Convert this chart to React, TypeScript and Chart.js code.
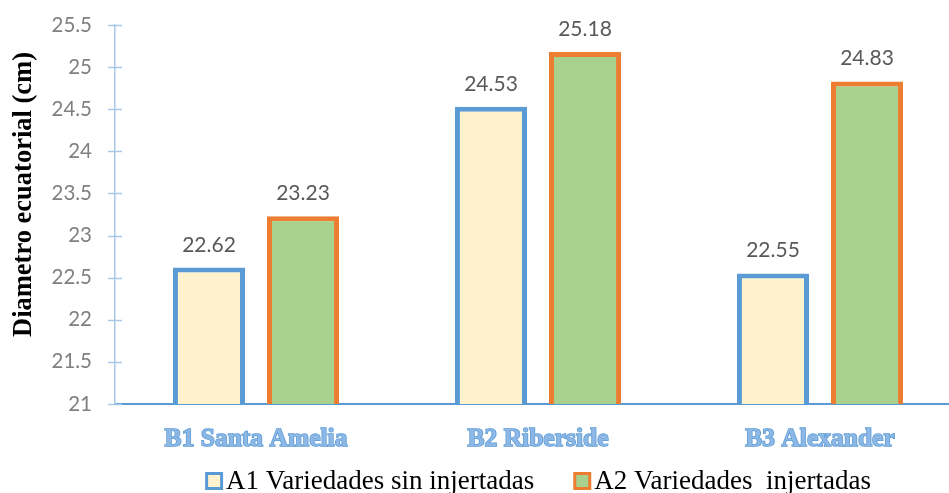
import React, { useEffect, useRef } from "react";
import { Chart, registerables } from "chart.js";

Chart.register(...registerables);

const categories = ["B1 Santa Amelia", "B2 Riberside", "B3 Alexander"];
const seriesA1 = [22.62, 24.53, 22.55];
const seriesA2 = [23.23, 25.18, 24.83];
const seriesNames = ["A1 Variedades sin injertadas", "A2 Variedades  injertadas"];
const yTickLabels = ["21", "21.5", "22", "22.5", "23", "23.5", "24", "24.5", "25", "25.5"];
const yTitle = "Diametro ecuatorial (cm)";

const crossTicks = {
  id: "crossTicks",
  afterDraw(chart: any) {
    const y = chart.scales.y;
    const ctx = chart.ctx;
    ctx.save();
    ctx.strokeStyle = "#a9c8e8";
    ctx.lineWidth = 1.5;
    y.ticks.forEach((t: any) => {
      const py = Math.round(y.getPixelForValue(t.value)) + 0.5;
      ctx.beginPath();
      ctx.moveTo(y.right - 7, py);
      ctx.lineTo(y.right + 7, py);
      ctx.stroke();
    });
    ctx.restore();
  },
};

const yAxisTitle = {
  id: "yAxisTitle",
  afterDraw(chart: any) {
    const ctx = chart.ctx;
    const area = chart.chartArea;
    ctx.save();
    ctx.translate(24, (area.top + area.bottom) / 2 - 20);
    ctx.rotate(-Math.PI / 2);
    ctx.font = "bold 26.5px 'Liberation Serif'";
    ctx.fillStyle = "#000000";
    ctx.textAlign = "center";
    ctx.textBaseline = "middle";
    ctx.fillText(yTitle, 0, 0);
    ctx.restore();
  },
};

const dataLabels = {
  id: "dataLabels",
  afterDatasetsDraw(chart: any) {
    const ctx = chart.ctx;
    ctx.save();
    ctx.fillStyle = "#595959";
    ctx.font = "21px Lato";
    ctx.textAlign = "center";
    ctx.textBaseline = "alphabetic";
    chart.data.datasets.forEach((ds: any, i: number) => {
      const meta = chart.getDatasetMeta(i);
      meta.data.forEach((bar: any, j: number) => {
        ctx.fillText(ds.data[j].toFixed(2), bar.x, bar.y - 16);
      });
    });
    ctx.restore();
  },
};

const customLegend = {
  id: "customLegend",
  afterDraw(chart: any) {
    const ctx = chart.ctx;
    const area = chart.chartArea;
    ctx.save();
    ctx.font = "27px 'Liberation Serif'";
    ctx.textBaseline = "alphabetic";
    ctx.textAlign = "left";
    const box = 18;
    const gapText = 3;
    const gapItems = 39;
    const ds = chart.data.datasets;
    const widths = ds.map((d: any) => ctx.measureText(d.label).width);
    const total = widths.reduce((a: number, w: number) => a + box + gapText + w, 0) + gapItems * (ds.length - 1);
    let x = (area.left + area.right) / 2 - total / 2;
    const baseline = 489;
    ds.forEach((d: any, i: number) => {
      ctx.fillStyle = d.borderColor;
      ctx.fillRect(x, baseline - 17, box, box);
      ctx.fillStyle = d.backgroundColor;
      ctx.fillRect(x + 3, baseline - 14, box - 6, box - 6);
      ctx.fillStyle = "#000000";
      ctx.fillText(d.label, x + box + gapText, baseline);
      x += box + gapText + widths[i] + gapItems;
    });
    ctx.restore();
  },
};

export default function App() {
  const ref = useRef<HTMLCanvasElement>(null);
  useEffect(() => {
    if (!ref.current) return;
    const chart = new Chart(ref.current, {
      type: "bar",
      data: {
        labels: categories,
        datasets: [
          {
            label: seriesNames[0],
            data: seriesA1,
            backgroundColor: "#fff2cc",
            borderColor: "#5b9bd5",
            borderWidth: 5,
            borderSkipped: false,
          },
          {
            label: seriesNames[1],
            data: seriesA2,
            backgroundColor: "#a9d18e",
            borderColor: "#ed7d31",
            borderWidth: 5,
            borderSkipped: false,
          },
        ],
      },
      options: {
        animation: false,
        responsive: true,
        maintainAspectRatio: false,
        layout: { padding: { top: 25, left: 0, right: 0, bottom: 39 } },
        datasets: { bar: { categoryPercentage: 0.667, barPercentage: 0.766 } },
        plugins: {
          tooltip: { enabled: false },
          legend: { display: false },
        },
        scales: {
          x: {
            grid: { display: false, drawTicks: false },
            border: { display: true, color: "#5b9bd5", width: 2 },
            ticks: {
              color: "#8db8e6",
              textStrokeColor: "#5b9bd5",
              textStrokeWidth: 1.5,
              font: { family: "Liberation Serif", size: 25.5, weight: "bold" },
              padding: 20,
            },
            afterFit(scale: any) {
              scale.height = 50;
            },
          },
          y: {
            min: 21,
            max: 25.5,
            grid: {
              display: true,
              drawOnChartArea: false,
              drawTicks: true,
              tickLength: 23,
              tickColor: "rgba(0,0,0,0)",
            },
            border: { display: true, color: "#a9c8e8", width: 1.5 },
            ticks: {
              stepSize: 0.5,
              color: "#808080",
              font: { family: "Lato", size: 20.5 },
              padding: 0,
              callback: (v: any) => {
                const s = String(v);
                return yTickLabels.includes(s) ? s : "";
              },
            },
            title: { display: false, text: yTitle },
            afterFit(scale: any) {
              scale.width = 115;
            },
          },
        },
      },
      plugins: [crossTicks, yAxisTitle, dataLabels, customLegend],
    });
    return () => chart.destroy();
  }, []);
  return (
    <div style={{ position: "fixed", left: 0, top: 0, width: 961, height: 493, background: "#ffffff" }}>
      <canvas ref={ref} />
    </div>
  );
}
